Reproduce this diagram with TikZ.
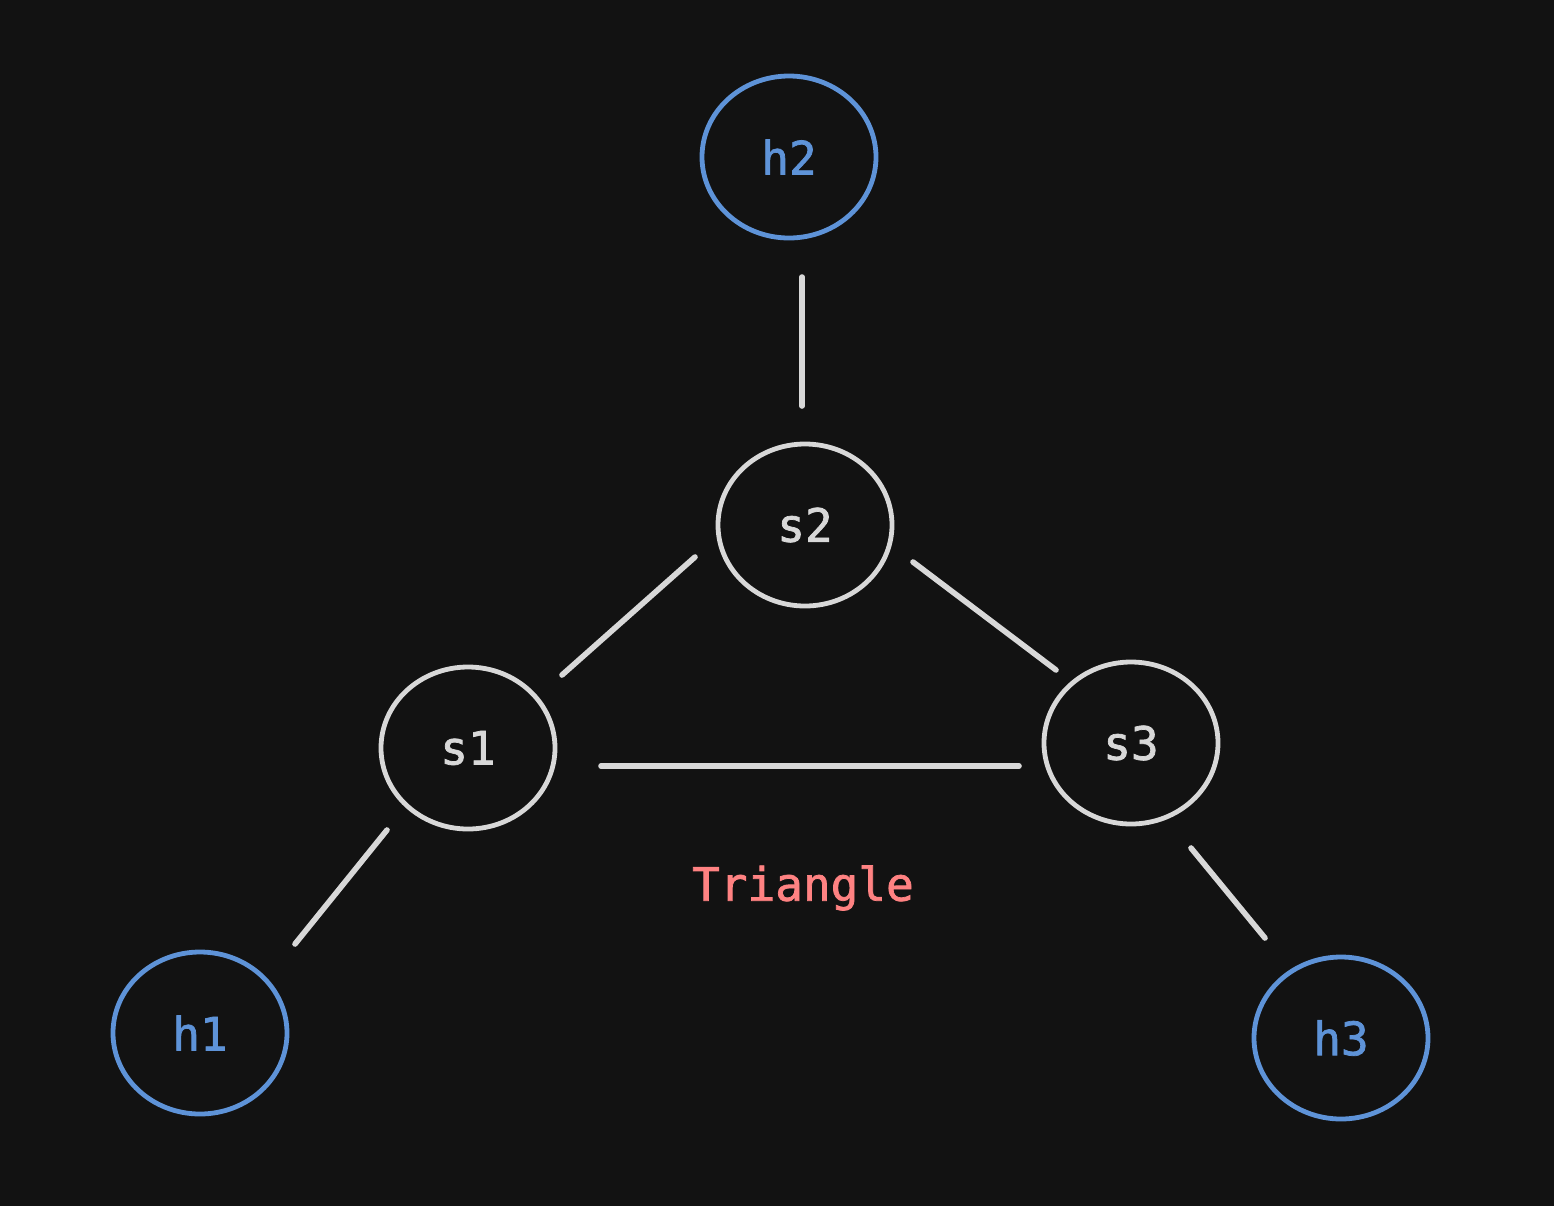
\documentclass[tikz,border=0pt]{standalone}
\usepackage{fontspec}
\newfontfamily\lblfont{DejaVu Sans Mono}[FakeBold=1.6]
\usetikzlibrary{shapes.geometric,calc}
\definecolor{bgc}{HTML}{121212}
\definecolor{hostc}{HTML}{5E93D8}
\definecolor{swc}{HTML}{D8D8D8}
\definecolor{labc}{HTML}{FF8282}
\tikzset{
  base/.style={ellipse, minimum width=87pt, minimum height=81pt, line width=2.4pt, inner sep=0pt, outer sep=0pt,
    font=\lblfont\fontsize{23}{27}\selectfont},
  host/.style={base, draw=hostc, text=hostc},
  sw/.style={base, draw=swc, text=swc},
  link/.style={draw=swc, line width=2.8pt, line cap=round},
  lab/.style={font=\lblfont\fontsize{23}{27}\selectfont, text=labc}
}
\begin{document}
\begin{tikzpicture}[x=0.5pt,y=-0.5pt]
\fill[bgc] (0,0) rectangle (1554,1206);
\node[host] (h2) at (789,157) {h2};
\node[sw] (s2) at (805,525) {s2};
\node[sw] (s1) at (468,748) {s1};
\node[sw] (s3) at (1131,743) {s3};
\node[host] (h1) at (200,1033) {h1};
\node[host] (h3) at (1341,1038) {h3};
\node[lab] (tri) at (803,888) {Triangle};
\draw[link] ($(h2.center)+(13,120)$) -- ($(s2.center)+(-3,-119)$);
\draw[link] ($(s2.center)+(-110,32)$) -- ($(s1.center)+(94,-73)$);
\draw[link] ($(s2.center)+(108,37)$) -- ($(s3.center)+(-75,-73)$);
\draw[link] ($(s1.center)+(133,18)$) -- ($(s3.center)+(-112,23)$);
\draw[link] ($(s1.center)+(-81,82)$) -- ($(h1.center)+(95,-89)$);
\draw[link] ($(s3.center)+(60,105)$) -- ($(h3.center)+(-76,-100)$);
\end{tikzpicture}
\end{document}
